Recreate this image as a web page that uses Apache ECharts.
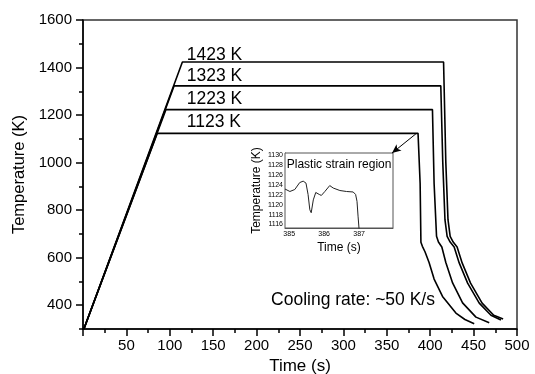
<!DOCTYPE html>
<html>
<head>
<meta charset="utf-8">
<script src="https://cdn.jsdelivr.net/npm/echarts@6/dist/echarts.min.js"></script>
<style>html,body{margin:0;padding:0;background:#fff}#c{width:535px;height:374px}</style>
</head>
<body>
<div id="c"></div>
<script>
// ---- data ----
const tempLevels = [1123, 1223, 1323, 1423];
const tempLabels = ['1123 K', '1223 K', '1323 K', '1423 K'];
const curve1123 = [[1,300],[85.5,1123],[386.0,1123],[387.0,1118],[388.4,912],[389.3,665],[391,648],[394,625],[398.7,580],[404.5,510],[414.2,437],[429.6,367],[440,340],[450.7,322]];
const curve1223 = [[1,300],[95.5,1223],[402.6,1223],[404.5,912],[407.3,690],[409.5,666],[413.4,645],[418,580],[425.8,494],[437.3,410],[452.7,350],[468,326]];
const curve1323 = [[1,300],[105,1323],[412.2,1323],[414.5,1000],[417,760],[419.5,690],[423,666],[427.6,645],[433.4,578],[443.1,493],[456.5,409],[470,358],[481.5,338]];
const curve1423 = [[1,300],[114.5,1423],[415.4,1423],[418,1000],[420.5,760],[423,690],[426.5,666],[431,645],[436.8,578],[446.5,493],[459.8,409],[473.2,358],[484,342]];
const curves = [curve1123, curve1223, curve1323, curve1423];
const yLabelValues = [400,600,800,1000,1200,1400,1600];
const insetCurve = [[384.88,1123.2],[385.02,1122.7],[385.16,1123.1],[385.30,1124.5],[385.40,1124.8],[385.48,1124.4],[385.54,1122.1],[385.59,1119.0],[385.63,1118.4],[385.69,1121.0],[385.76,1122.5],[385.86,1122.1],[385.92,1121.9],[386.02,1122.7],[386.16,1123.9],[386.26,1123.4],[386.45,1122.9],[386.64,1122.7],[386.83,1122.6],[386.90,1122.1],[386.94,1120.7],[386.97,1117.7],[387.0,1115.0]];
const insetXLabels = [385,386,387];
const insetYLabels = [1116,1118,1120,1122,1124,1126,1128,1130];
const arrowFrom = [356.0, 1040];
const arrowTo = [383.5, 1121];

const FONT = '"Liberation Sans", Arial, sans-serif';
const chart = echarts.init(document.getElementById('c'), null, {renderer:'canvas'});
const plain = v => String(v);

const blackLine = {color:'#000', width:1.5};
const series = curves.map((d, i) => ({
  type:'line', xAxisIndex:0, yAxisIndex:0, data:d, symbol:'none', showSymbol:false,
  lineStyle:{color:'#000', width:1.6}, z:3,
  markLine: i === 0 ? {
    silent:true, animation:false, symbol:['arrow','none'], symbolSize:[6,9],
    lineStyle:{color:'#000', width:1, type:'solid'}, label:{show:false},
    data:[[{coord:arrowFrom},{coord:arrowTo}]]
  } : undefined
}));
series.push({
  type:'line', xAxisIndex:1, yAxisIndex:2, data:insetCurve, symbol:'none', showSymbol:false,
  lineStyle:{color:'#222', width:1}, z:5, clip:true
});

const option = {
  animation:false,
  textStyle:{fontFamily:FONT},
  grid:[
    {left:83, right:18, top:20, bottom:45, show:true, borderColor:'#333', borderWidth:1.5, outerBoundsMode:'none', containLabel:false},
    {left:285, right:142, top:153, bottom:146, show:true, borderColor:'#555', borderWidth:1, backgroundColor:'#fff', outerBoundsMode:'none', containLabel:false, z:4}
  ],
  xAxis:[
    {gridIndex:0, type:'value', min:0, max:500, interval:50,
     name:'Time (s)', nameLocation:'middle', nameGap:28, nameTextStyle:{fontSize:17, color:'#000', fontFamily:FONT},
     axisLine:{lineStyle:blackLine}, axisTick:{length:7, lineStyle:blackLine},
     minorTick:{show:true, splitNumber:2, length:4, lineStyle:blackLine},
     axisLabel:{fontSize:15, color:'#000', margin:9, showMinLabel:false, fontFamily:FONT, formatter:plain},
     splitLine:{show:false}},
    {gridIndex:1, type:'value', min:384.88, max:387.97,
     name:'Time (s)', nameLocation:'middle', nameGap:14, nameTextStyle:{fontSize:12, color:'#000', fontFamily:FONT},
     axisLine:{lineStyle:{color:'#555', width:1}},
     axisTick:{inside:true, length:2, customValues:insetXLabels, lineStyle:{color:'#555'}},
     axisLabel:{fontSize:7, color:'#000', margin:3, customValues:insetXLabels, fontFamily:FONT, formatter:plain},
     splitLine:{show:false}}
  ],
  yAxis:[
    {gridIndex:0, type:'value', min:300, max:1600, position:'left',
     name:'Temperature (K)', nameLocation:'middle', nameGap:52, nameTextStyle:{fontSize:16.5, color:'#000', fontFamily:FONT},
     axisLine:{lineStyle:blackLine},
     axisTick:{length:7, customValues:yLabelValues, lineStyle:blackLine},
     axisLabel:{fontSize:15, color:'#000', margin:11, customValues:yLabelValues, fontFamily:FONT, formatter:plain},
     splitLine:{show:false}},
    {gridIndex:0, type:'value', min:300, max:1600, interval:100, position:'left', offset:0,
     axisLine:{show:false}, axisTick:{length:4, lineStyle:blackLine}, axisLabel:{show:false}, splitLine:{show:false}},
    {gridIndex:1, type:'value', min:1115.3, max:1130.5,
     name:'Temperature (K)', nameLocation:'middle', nameGap:22, nameTextStyle:{fontSize:12, color:'#000', fontFamily:FONT},
     axisLine:{lineStyle:{color:'#555', width:1}},
     axisTick:{inside:true, length:2, customValues:insetYLabels, lineStyle:{color:'#555'}},
     axisLabel:{fontSize:7, color:'#000', margin:2, customValues:insetYLabels, fontFamily:FONT, formatter:plain},
     splitLine:{show:false}}
  ],
  series:series
};
chart.setOption(option);

// text annotations anchored on data coordinates
const labelTime = 119.5;
const labelLift = [11.5, 10, 10, 6.5];
const graphics = tempLevels.map((T, i) => {
  const p = chart.convertToPixel({gridIndex:0}, [labelTime, T]);
  return {type:'text', x:p[0], y:p[1] - labelLift[i], z:10,
    style:{text:tempLabels[i], fontSize:17.5, fontFamily:FONT, fill:'#000', align:'left', verticalAlign:'middle'}};
});
const pc = chart.convertToPixel({gridIndex:0}, [405.5, 421]);
graphics.push({type:'text', x:pc[0], y:pc[1], z:10,
  style:{text:'Cooling rate: ~50 K/s', fontSize:17.5, fontFamily:FONT, fill:'#000', align:'right', verticalAlign:'middle'}});
const pi = chart.convertToPixel({gridIndex:1}, [384.93, 1128.2]);
graphics.push({type:'text', x:pi[0], y:pi[1], z:10,
  style:{text:'Plastic strain region', fontSize:12, fontFamily:FONT, fill:'#000', align:'left', verticalAlign:'middle'}});
chart.setOption({graphic:graphics});
</script>
</body>
</html>
